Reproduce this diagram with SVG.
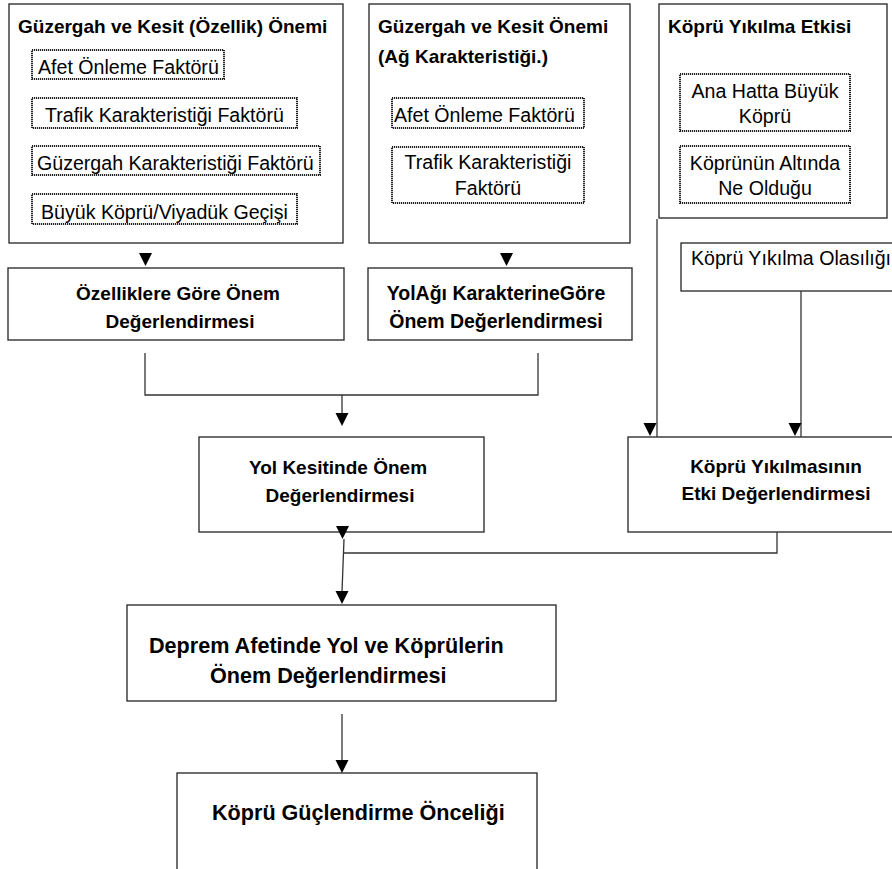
<svg xmlns="http://www.w3.org/2000/svg" xmlns:xlink="http://www.w3.org/1999/xlink" width="892" height="869" viewBox="0 0 892 869">
<style>
.box{fill:#fff;stroke:#222;stroke-width:1.3}
.dot{fill:#fff;stroke:#222;stroke-width:2;stroke-dasharray:1.2 0.8}
.ln{fill:none;stroke:#333;stroke-width:1.3}
.ah{fill:#000}
text{font-family:"Liberation Sans",Arial,sans-serif;fill:#000}
.b{font-weight:bold;font-size:19px}
.y{font-weight:bold;font-size:19.5px}
.bb{font-weight:bold;font-size:21.6px}
.r{font-size:19.6px}
.c{text-anchor:middle}
</style>
<defs>
<path id="ah" d="M-6.5,-13 L6.5,-13 L0,0 Z"/>
</defs>
<rect width="892" height="869" fill="#fff"/>

<g id="n1">
<rect class="box" x="9" y="4" width="334" height="239"/>
<text class="b" x="18" y="33">Güzergah ve Kesit (Özellik) Önemi</text>
<rect class="dot" x="32" y="50" width="192" height="29"/>
<text class="r" x="38" y="74">Afet Önleme Faktörü</text>
<rect class="dot" x="32" y="98" width="265" height="30"/>
<text class="r" x="45" y="122">Trafik Karakteristiği Faktörü</text>
<rect class="dot" x="32" y="146" width="288" height="29"/>
<text class="r" x="37" y="170">Güzergah Karakteristiği Faktörü</text>
<rect class="dot" x="32" y="194" width="265" height="30"/>
<text class="r" x="41" y="219">Büyük Köprü/Viyadük Geçişi</text>
</g>

<g id="n2">
<rect class="box" x="369" y="4" width="261" height="239"/>
<text class="b" x="378" y="33">Güzergah ve Kesit Önemi</text>
<text class="b" x="378" y="63">(Ağ Karakteristiği.)</text>
<rect class="dot" x="392" y="98" width="192" height="30"/>
<text class="r" x="394" y="122">Afet Önleme Faktörü</text>
<rect class="dot" x="392" y="147" width="192" height="56"/>
<text class="r c" x="488" y="169">Trafik Karakteristiği</text>
<text class="r c" x="488" y="195">Faktörü</text>
</g>

<g id="n3">
<rect class="box" x="659" y="4" width="228" height="214"/>
<text class="b" x="668" y="33">Köprü Yıkılma Etkisi</text>
<rect class="dot" x="680" y="74" width="170" height="57"/>
<text class="r c" x="765" y="98">Ana Hatta Büyük</text>
<text class="r c" x="765" y="123">Köprü</text>
<rect class="dot" x="680" y="146" width="170" height="57"/>
<text class="r c" x="765" y="170">Köprünün Altında</text>
<text class="r c" x="765" y="195">Ne Olduğu</text>
</g>

<g id="n4">
<rect class="box" x="681" y="243" width="220" height="48"/>
<text class="r" x="691" y="265">Köprü Yıkılma Olasılığı</text>
</g>

<g id="n5">
<rect class="box" x="8" y="268" width="336" height="72"/>
<text class="b c" x="178" y="300">Özelliklere Göre Önem</text>
<text class="b c" x="180" y="328">Değerlendirmesi</text>
</g>

<g id="n6">
<rect class="box" x="368" y="268" width="264" height="72"/>
<text class="y c" x="496" y="300">YolAğı KarakterineGöre</text>
<text class="y c" x="496" y="328">Önem Değerlendirmesi</text>
</g>

<g id="n7">
<rect class="box" x="199" y="437" width="285" height="95"/>
<text class="b c" x="338" y="474">Yol Kesitinde Önem</text>
<text class="b c" x="340" y="502">Değerlendirmesi</text>
</g>

<g id="n8">
<rect class="box" x="628" y="437" width="272" height="95"/>
<text class="b c" x="776" y="473">Köprü Yıkılmasının</text>
<text class="b c" x="776" y="500">Etki Değerlendirmesi</text>
</g>

<g id="n9">
<rect class="box" x="127" y="605" width="429" height="96"/>
<text class="bb" x="149" y="653">Deprem Afetinde Yol ve Köprülerin</text>
<text class="bb" x="210" y="683">Önem Değerlendirmesi</text>
</g>

<g id="n10">
<rect class="box" x="177" y="773" width="360" height="110"/>
<text class="bb" x="212" y="820">Köprü Güçlendirme Önceliği</text>
</g>

<g id="connectors">
<use class="ah" xlink:href="#ah" x="145.5" y="266"/>
<use class="ah" xlink:href="#ah" x="506.5" y="266"/>
<polyline class="ln" points="145,353 145,395 538,395 538,353"/>
<line class="ln" x1="342" y1="395" x2="342" y2="413"/>
<use class="ah" xlink:href="#ah" x="342" y="426"/>
<line class="ln" x1="657" y1="219" x2="657" y2="437"/>
<use class="ah" xlink:href="#ah" x="650" y="436"/>
<line class="ln" x1="801" y1="291" x2="801" y2="437"/>
<use class="ah" xlink:href="#ah" x="795" y="436"/>
<use class="ah" xlink:href="#ah" x="342.5" y="539"/>
<polyline class="ln" points="777,532 777,553 344,553"/>
<line class="ln" x1="344" y1="539" x2="342" y2="592"/>
<use class="ah" xlink:href="#ah" x="342" y="604"/>
<line class="ln" x1="342" y1="714" x2="342" y2="762"/>
<use class="ah" xlink:href="#ah" x="342" y="773"/>
</g>
</svg>
